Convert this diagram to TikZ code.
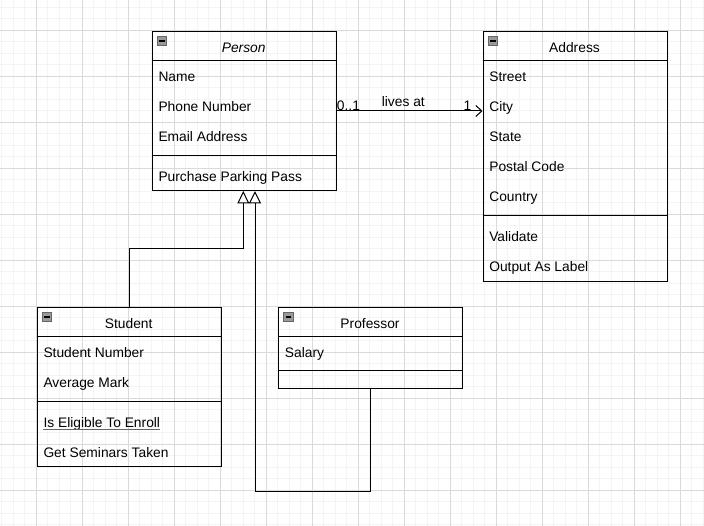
\documentclass[tikz,border=0pt]{standalone}
\usepackage{fontspec}
\setmainfont{Liberation Sans}
\usetikzlibrary{arrows.meta,calc}
\definecolor{gridminor}{HTML}{F4F4F4}
\definecolor{gridmajor}{HTML}{DADADA}
\begin{document}
\begin{tikzpicture}[x=1pt,y=-1pt,
  box/.style={draw=black, line width=1pt, inner sep=0pt, anchor=north west, minimum width=184pt},
  sepline/.style={draw=black, line width=1pt},
  txt/.style={anchor=base west, inner sep=0pt, font=\fontsize{13.8}{16}\selectfont},
  hdr/.style={anchor=base, inner sep=0pt, font=\fontsize{13.8}{16}\selectfont},
  gen/.style={draw=black, line width=1pt, -{Triangle[open, length=12.5pt, width=12pt, fill=white]}},
  assoc/.style={draw=black, line width=1pt, -{Straight Barb[length=6pt, width=11pt]}},
  minusicon/.pic={
    \draw[fill=black!40, draw=black!60, line width=0.6pt] (0,0) rectangle (9.4,9.7);
    \draw[black, line width=1.8pt] (2,4.85) -- (7.4,4.85);
  }]
\useasboundingbox (0,0) rectangle (704,526);
\fill[white] (0,0) rectangle (704,526);
% grid
\foreach \i in {0,...,61} {\draw[gridminor, line width=0.8pt] (1.5+11.5*\i,0) -- (1.5+11.5*\i,526);}
\foreach \i in {0,...,45} {\draw[gridminor, line width=0.8pt] (0,7+11.5*\i) -- (704,7+11.5*\i);}
\foreach \i in {0,...,14} {\draw[gridmajor, line width=0.8pt] (36+46*\i,0) -- (36+46*\i,526);}
\foreach \i in {0,...,10} {\draw[gridmajor, line width=0.8pt] (0,30+46*\i) -- (704,30+46*\i);}

% Person
\node[box, minimum height=159pt] (person) at (151.7,31) {};
\draw[sepline] (151.7,61) -- (335.7,61);
\draw[sepline] (151.7,155.7) -- (335.7,155.7);
\pic at (157.3,36) {minusicon};
\node[hdr, font=\fontsize{13.8}{16}\selectfont\itshape] (personT) at (243.7,52.3) {Person};
\node[txt] (pName) at (158.3,81.7) {Name};
\node[txt] (pPhone) at (158.3,111.7) {Phone Number};
\node[txt] (pEmail) at (158.3,141.7) {Email Address};
\node[txt] (pPark) at (158.3,181.7) {Purchase Parking Pass};

% Address
\node[box, minimum height=250pt] (address) at (482.5,31) {};
\draw[sepline] (482.5,61) -- (666.5,61);
\draw[sepline] (482.5,215.6) -- (666.5,215.6);
\pic at (488.1,36) {minusicon};
\node[hdr] (addressT) at (574.5,52.3) {Address};
\node[txt] (aStreet) at (489.1,81.7) {Street};
\node[txt] (aCity) at (489.1,111.7) {City};
\node[txt] (aState) at (489.1,141.7) {State};
\node[txt] (aPostal) at (489.1,171.7) {Postal Code};
\node[txt] (aCountry) at (489.1,201.7) {Country};
\node[txt] (aValidate) at (489.1,241.7) {Validate};
\node[txt] (aOutput) at (489.1,271.7) {Output As Label};

% Student
\node[box, minimum height=158.7pt] (student) at (36.7,307) {};
\draw[sepline] (36.7,337) -- (220.7,337);
\draw[sepline] (36.7,401.7) -- (220.7,401.7);
\pic at (42.3,312) {minusicon};
\node[hdr] (studentT) at (128.7,328.3) {Student};
\node[txt] (sNum) at (43.3,357.7) {Student Number};
\node[txt] (sAvg) at (43.3,387.7) {Average Mark};
\node[txt] (sElig) at (43.3,427.3) {Is Eligible To Enroll};
\draw[black!60, line width=0.8pt] ($(sElig.base west)+(0,2.2)$) -- ($(sElig.base east)+(0,2.2)$);
\node[txt] (sSem) at (43.3,457.3) {Get Seminars Taken};

% Professor
\node[box, minimum height=80.7pt] (professor) at (278,307) {};
\draw[sepline] (278,337) -- (462,337);
\draw[sepline] (278,371) -- (462,371);
\pic at (283.6,312) {minusicon};
\node[hdr] (professorT) at (370,328.3) {Professor};
\node[txt] (prSal) at (284.7,357.7) {Salary};

% association
\draw[assoc] (person.east) -- (person.east -| address.west);
\node[txt] (m1) at (336.7,110.8) {0..1};
\node[hdr] (lives) at (403.3,106.7) {lives at};
\node[txt, anchor=base east] (m2) at (471.5,110.8) {1};

% generalizations
\coordinate (j1) at (243.3,249);
\coordinate (j2) at (255,491);
\draw[gen] (student.north) |- (j1) -- (j1 |- person.south);
\draw[gen] (professor.south) |- (j2) -- (j2 |- person.south);
\end{tikzpicture}
\end{document}
